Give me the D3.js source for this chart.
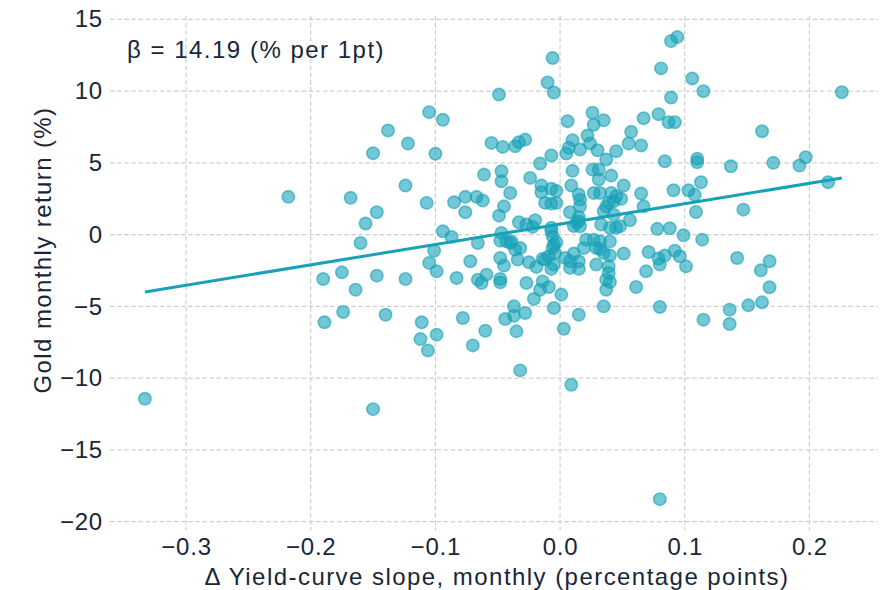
<!DOCTYPE html>
<html>
<head>
<meta charset="utf-8">
<script src="https://cdn.jsdelivr.net/npm/d3@7"></script>
<style>
  html, body { margin: 0; padding: 0; background: #ffffff; }
  svg text { font-family: "Liberation Sans", Arial, sans-serif; fill: #17273a; }
</style>
</head>
<body>
<svg id="chart" width="884" height="590"></svg>
<script>
// Monthly change in yield-curve slope (percentage points)
const slopeChange = [
  -0.006,-0.010,-0.005,-0.049,-0.105,-0.094,-0.138,-0.122,-0.150,-0.100,
  -0.055,-0.046,-0.036,-0.033,-0.028,-0.016,-0.007,0.006,0.026,0.027,
  0.035,0.022,0.024,0.010,0.007,0.005,0.030,0.037,0.045,0.010,
  0.026,0.031,0.041,-0.061,-0.047,-0.024,0.089,0.094,0.081,0.106,
  0.115,0.226,0.089,0.079,0.067,0.087,0.092,0.057,0.055,0.065,
  0.162,0.084,0.110,0.110,0.137,0.171,0.192,0.197,0.215,0.113,
  0.016,-0.047,
  -0.218,-0.168,-0.160,-0.175,-0.190,-0.164,-0.174,-0.189,-0.124,-0.107,
  -0.147,-0.156,-0.085,-0.076,-0.067,-0.062,-0.076,-0.094,-0.087,-0.101,
  -0.105,-0.099,-0.066,-0.072,-0.147,-0.124,-0.083,-0.066,-0.063,-0.059,
  -0.048,-0.048,-0.027,-0.021,-0.016,-0.009,-0.014,0.001,-0.005,0.003,
  -0.037,-0.037,-0.044,-0.028,-0.035,-0.060,-0.070,-0.078,-0.099,-0.111,
  -0.112,-0.106,-0.140,0.015,0.035,
  -0.040,-0.045,-0.049,-0.033,-0.027,-0.020,-0.047,-0.048,-0.043,-0.039,
  -0.036,-0.032,-0.048,-0.045,-0.034,-0.025,-0.019,-0.014,-0.012,-0.007,
  -0.005,-0.005,-0.003,-0.006,0.004,0.011,0.015,0.015,0.008,0.019,
  0.027,0.032,0.032,0.040,0.029,0.039,0.040,0.037,0.037,0.016,
  0.013,-0.007,-0.006,-0.015,-0.007,-0.015,-0.012,-0.007,0.009,0.015,
  0.016,0.016,0.008,0.015,0.015,0.027,0.032,0.041,0.043,0.039,
  0.035,
  -0.003,-0.003,0.011,0.031,0.045,0.037,0.043,0.033,0.040,0.045,
  -0.022,-0.040,-0.007,-0.004,-0.009,0.008,0.021,0.029,0.035,0.039,
  0.040,
  0.051,0.049,0.065,0.091,0.103,0.108,0.067,0.109,0.147,0.056,
  0.048,0.078,0.088,0.099,0.114,0.051,0.071,0.079,0.080,0.084,
  0.092,0.096,0.101,0.069,0.142,0.161,0.168,0.061,0.168,0.080,
  0.136,0.151,0.162,0.115,0.136,
  0.080,-0.333,-0.150,-0.032,0.009
];

// Gold monthly return (%) for the same months
const goldReturn = [
  12.3,10.6,9.9,9.76,8.53,8.0,7.25,6.35,5.67,5.63,
  6.39,6.11,6.16,6.44,6.62,4.95,5.51,7.9,8.49,7.65,
  7.97,6.9,6.35,6.58,6.05,5.65,5.88,5.23,5.81,4.44,
  4.53,4.53,4.11,4.18,4.41,3.95,13.48,13.76,11.58,10.88,
  9.99,9.92,9.55,8.39,8.11,7.83,7.83,7.16,6.35,6.21,
  7.2,5.11,5.28,5.04,4.76,5.0,4.81,5.39,3.65,3.65,
  5.93,3.72,
  2.63,2.56,-0.58,-2.63,-3.09,-3.84,-5.39,-6.11,3.42,2.21,
  1.56,0.77,2.25,2.63,2.63,2.37,1.56,0.23,-0.16,-1.12,
  -1.97,-2.56,-0.58,-1.86,-2.86,-3.09,-3.02,-3.14,-3.37,-2.79,
  -3.09,-3.33,-3.37,-4.48,-3.84,-3.65,-3.26,-4.18,-5.11,-6.56,
  -5.0,-5.65,-5.88,-5.46,-6.74,-6.7,-7.72,-5.81,-6.97,-6.11,
  -7.28,-8.07,-5.58,-5.58,-5.0,
  2.9,1.97,1.32,0.86,0.70,1.0,0.12,-0.42,-0.47,-0.47,
  -1.05,-0.93,-1.63,-2.16,-1.74,-1.93,-2.25,-1.69,-1.74,-2.39,
  -2.09,-0.7,-0.54,-0.93,-1.63,-1.32,-1.86,-2.39,-1.86,-0.93,
  -0.35,-0.47,-1.0,-0.47,-2.09,-2.21,-1.46,-3.14,-3.84,0.58,
  0.82,0.47,-0.12,3.42,3.19,2.95,2.21,2.16,3.42,2.79,
  2.44,1.97,1.56,1.23,0.93,2.9,2.9,2.9,2.32,2.21,
  1.63,
  3.05,2.21,0.6,3.84,2.67,1.97,1.39,0.70,0.47,0.47,
  0.55,-0.58,0.23,-1.28,-1.5,-2.32,-0.35,-0.93,-1.28,-2.67,
  -3.3,
  3.42,2.49,2.86,3.09,3.09,2.77,1.97,1.58,1.74,1.0,
  0.58,0.4,0.44,-0.05,-0.35,-1.32,-1.21,-1.67,-2.09,-1.46,
  -1.12,-1.51,-2.21,-2.56,-1.63,-2.49,-1.86,-3.65,-3.67,-5.04,
  -5.23,-4.93,-4.72,-5.93,-6.23,
  -18.43,-11.44,-12.16,-9.46,-10.46
];

// Tick values
const xTicks = [-0.3, -0.2, -0.1, 0.0, 0.1, 0.2];
const yTicks = [-20, -15, -10, -5, 0, 5, 10, 15];

// Fitted regression line
const fitSlope = 14.19;
const fitIntercept = 0.73;

const teal = "#17a2b8";
const svg = d3.select("#chart");

const plot = { left: 110, right: 878, top: 16, bottom: 530 };

const x = d3.scaleLinear().domain([-0.361, 0.255]).range([plot.left, plot.right]);
const y = d3.scaleLinear().domain([-20.58, 15.23]).range([plot.bottom, plot.top]);

// Grid
const grid = svg.append("g").attr("stroke", "#cfcfcf").attr("stroke-width", 1.2)
  .attr("stroke-dasharray", "4.5,2.6").attr("fill", "none");
grid.selectAll("line.h").data(yTicks).join("line").attr("class", "h")
  .attr("x1", plot.left).attr("x2", plot.right)
  .attr("y1", d => y(d)).attr("y2", d => y(d));
grid.selectAll("line.v").data(xTicks).join("line").attr("class", "v")
  .attr("y1", plot.top).attr("y2", plot.bottom)
  .attr("x1", d => x(d)).attr("x2", d => x(d));

// Axes (labels only, no domain line or tick marks)
const fmtX = v => d3.format(".1f")(v).replace("-", "\u2212");
const fmtY = v => String(v).replace("-", "\u2212");

const xAxis = svg.append("g").attr("transform", `translate(0,${plot.bottom})`)
  .call(d3.axisBottom(x).tickValues(xTicks).tickFormat(fmtX).tickSize(0).tickPadding(8));
const yAxis = svg.append("g").attr("transform", `translate(${plot.left},0)`)
  .call(d3.axisLeft(y).tickValues(yTicks).tickFormat(fmtY).tickSize(0).tickPadding(7));
[xAxis, yAxis].forEach(g => {
  g.select(".domain").remove();
  g.selectAll("text").attr("font-size", 24).attr("letter-spacing", 0.8)
    .attr("font-family", "Liberation Sans, Arial, sans-serif").attr("fill", "#17273a");
});

// Points
const pts = slopeChange.map((v, i) => [v, goldReturn[i]]);
svg.append("g").selectAll("circle").data(pts).join("circle")
  .attr("cx", d => x(d[0])).attr("cy", d => y(d[1])).attr("r", 6.2)
  .attr("fill", teal).attr("fill-opacity", 0.6)
  .attr("stroke", teal).attr("stroke-opacity", 0.6).attr("stroke-width", 1.6);

// Regression line across the observed range
const xr = d3.extent(slopeChange);
svg.append("line")
  .attr("x1", x(xr[0])).attr("y1", y(fitIntercept + fitSlope * xr[0]))
  .attr("x2", x(xr[1])).attr("y2", y(fitIntercept + fitSlope * xr[1]))
  .attr("stroke", teal).attr("stroke-width", 3);

// Annotation
svg.append("text").attr("x", 127).attr("y", 58)
  .attr("font-size", 24).attr("letter-spacing", 1.5)
  .text("\u03b2 = 14.19 (% per 1pt)");

// Axis titles
svg.append("text").attr("x", 497).attr("y", 585)
  .attr("text-anchor", "middle").attr("font-size", 24).attr("letter-spacing", 1.45)
  .text("\u0394 Yield-curve slope, monthly (percentage points)");
svg.append("text")
  .attr("transform", "translate(51,250) rotate(-90)")
  .attr("text-anchor", "middle").attr("font-size", 24).attr("letter-spacing", 1.4)
  .text("Gold monthly return (%)");
</script>
</body>
</html>
